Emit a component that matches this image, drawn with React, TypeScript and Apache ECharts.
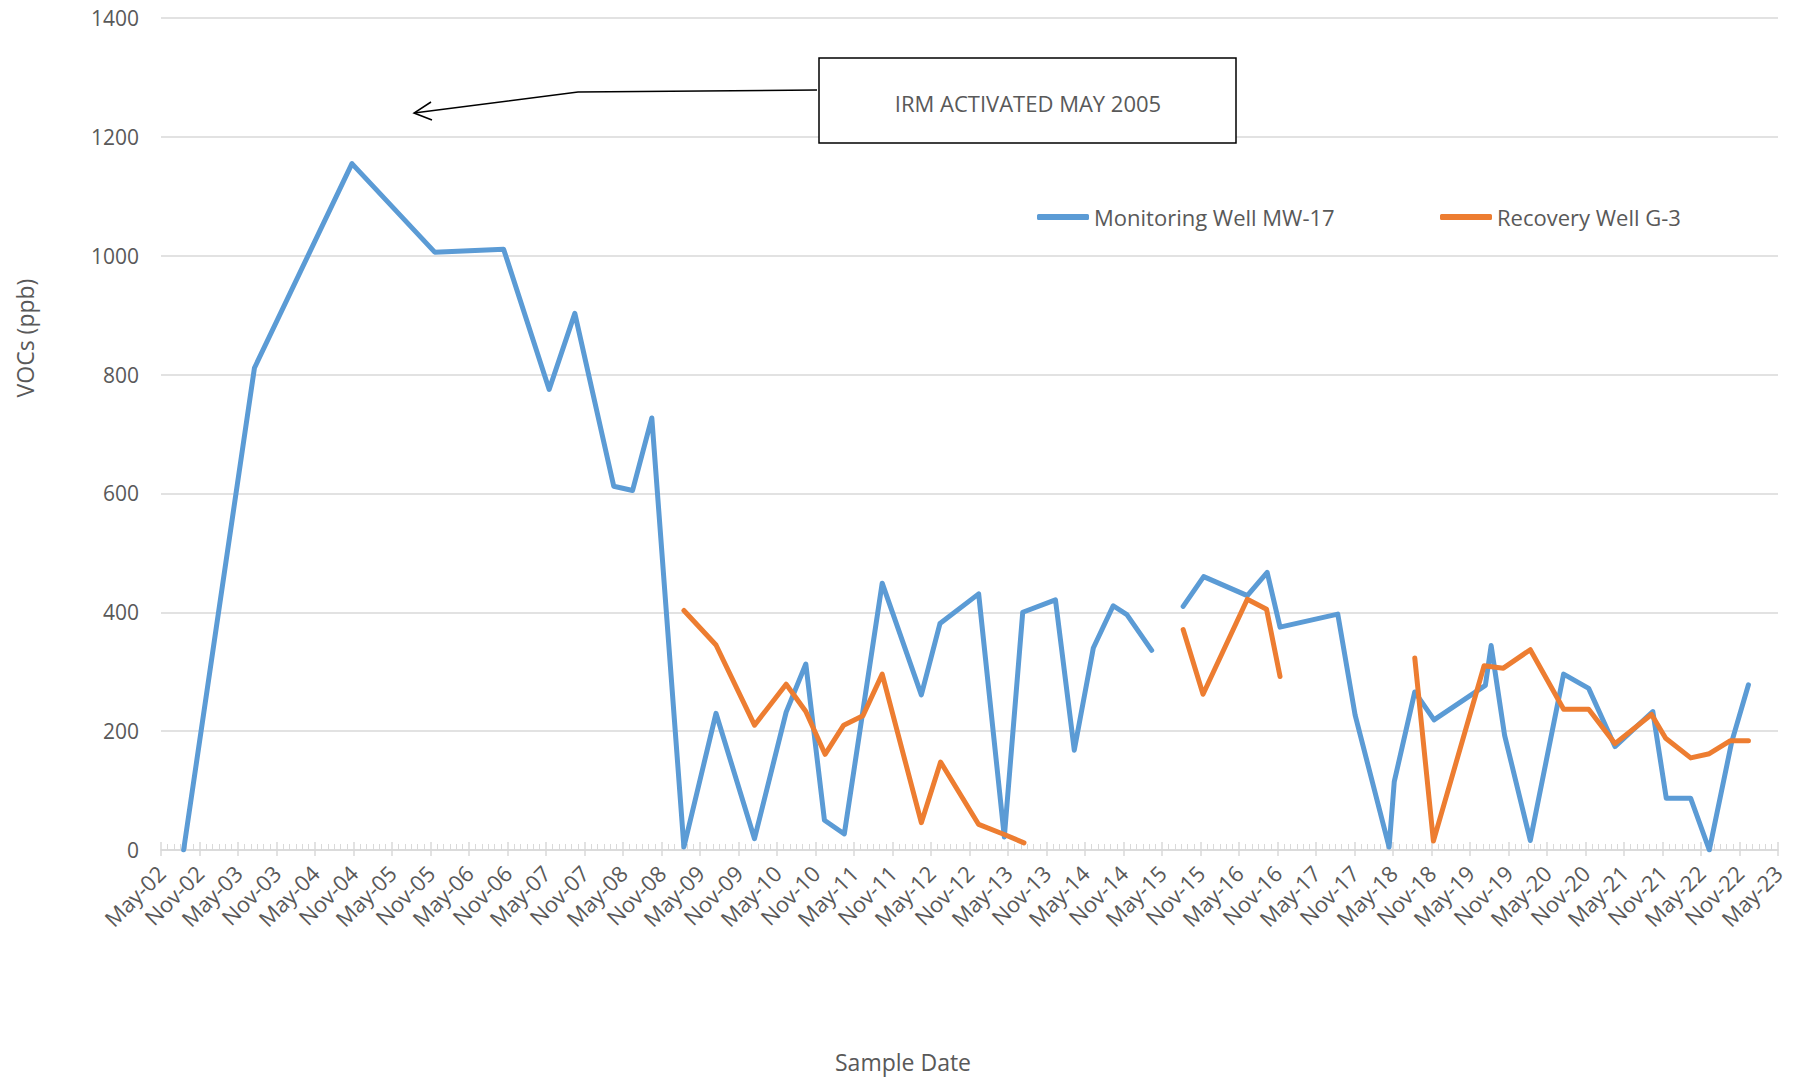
import React, { useEffect, useRef } from "react";
import * as echarts from "echarts";

// ---- Data ----
const seriesNames = ["Monitoring Well MW-17", "Recovery Well G-3"];

// Axis: months counted from May 2002 (May-02) to May 2023 (May-23)
const axisStartYear = 2002;
const axisStartMonth = 5;
const axisMinMonths = 0;
const axisMaxMonths = 252;
const axisMajorStepMonths = 6;
const monthNames = ["Jan", "Feb", "Mar", "Apr", "May", "Jun", "Jul", "Aug", "Sep", "Oct", "Nov", "Dec"];

const yMin = 0;
const yMax = 1400;
const yStep = 200;

// Monitoring Well MW-17 (null = no sample, line breaks)
const mwDates = [
  "2002-08-17", "2003-07-18", "2004-10-24", "2005-11-21", "2006-10-13", "2007-05-16",
  "2007-09-16", "2008-03-18", "2008-06-16", "2008-09-16", "2009-02-16", "2009-07-16",
  "2010-01-16", "2010-06-14", "2010-09-16", "2010-12-13", "2011-03-16", "2011-09-13",
  "2012-03-16", "2012-06-13", "2012-12-14", "2013-04-14", "2013-07-10", "2013-12-13",
  "2014-03-11", "2014-06-10", "2014-09-13", "2014-11-17", "2015-03-13", "2015-06-01",
  "2015-08-10", "2015-11-16", "2016-06-10", "2016-09-13", "2016-11-13", "2017-08-13",
  "2017-11-04", "2018-04-13", "2018-05-07", "2018-08-13", "2018-11-13", "2019-07-13",
  "2019-08-10", "2019-10-13", "2020-02-13", "2020-07-19", "2020-11-16", "2021-03-19",
  "2021-09-16", "2021-11-19", "2022-03-13", "2022-06-10", "2022-09-25", "2022-12-13",
];
const mwValues = [
  0, 811, 1155, 1006, 1011, 775,
  903, 612, 605, 727, 5, 230,
  19, 232, 313, 50, 27, 449,
  261, 381, 431, 22, 400, 421,
  168, 340, 411, 396, 336, null,
  410, 460, 428, 467, 375, 397,
  227, 5, 115, 266, 219, 277,
  344, 193, 16, 296, 272, 174,
  233, 87, 87, 0, 182, 278,
];

// Recovery Well G-3
const g3Dates = [
  "2009-02-16", "2009-07-16", "2010-01-16", "2010-06-14", "2010-09-16", "2010-12-16",
  "2011-03-13", "2011-06-13", "2011-09-13", "2012-03-16", "2012-06-16", "2012-12-14",
  "2013-04-14", "2013-07-16", "2014-06-01", "2015-08-10", "2015-11-13", "2016-06-10",
  "2016-09-10", "2016-11-13", "2017-09-01", "2018-08-13", "2018-11-10", "2019-07-07",
  "2019-10-07", "2020-02-13", "2020-07-19", "2020-11-16", "2021-03-19", "2021-09-10",
  "2021-11-16", "2022-03-13", "2022-06-10", "2022-09-19", "2022-12-13",
];
const g3Values = [
  403, 345, 210, 279, 233, 161,
  210, 226, 296, 46, 148, 43,
  26, 12, null, 371, 262, 422,
  405, 292, null, 323, 15, 310,
  306, 337, 237, 237, 179, 228,
  188, 155, 162, 184, 184,
];

const annotationText = "IRM ACTIVATED MAY 2005";
const yAxisTitle = "VOCs (ppb)";
const xAxisTitle = "Sample Date";

// ---- Helpers ----
function toAxisMonths(date: string): number {
  const [y, m, d] = date.split("-").map(Number);
  return (y - axisStartYear) * 12 + (m - axisStartMonth) + (d - 1) / 30.44;
}

function monthLabel(v: number): string {
  const total = axisStartMonth - 1 + Math.round(v);
  const year = axisStartYear + Math.floor(total / 12);
  const mi = ((total % 12) + 12) % 12;
  return `${monthNames[mi]}-${String(year % 100).padStart(2, "0")}`;
}

function buildData(dates: string[], values: (number | null)[]) {
  return dates.map((d, i) => [toAxisMonths(d), values[i] === null ? "-" : values[i]]);
}

const FONT = "Open Sans";
const TEXT_COLOR = "#595959";
const GRID_COLOR = "#d9d9d9";
const BLUE = "#5B9BD5";
const ORANGE = "#ED7D31";

export default function App() {
  const ref = useRef<HTMLDivElement>(null);

  useEffect(() => {
    document.body.style.margin = "0";
    if (!ref.current) return;
    const chart = echarts.init(ref.current, undefined, { renderer: "svg" });

    const legendCommon = {
      orient: "horizontal" as const,
      itemWidth: 52,
      itemHeight: 6,
      itemGap: 0,
      padding: 0,
      icon: "roundRect",
      textStyle: { color: TEXT_COLOR, fontSize: 22, fontFamily: FONT, padding: [0, 0, 0, 0] },
      top: 206,
    };

    chart.setOption({
      animation: false,
      backgroundColor: "#ffffff",
      textStyle: { fontFamily: FONT },
      grid: { left: 161, right: 19, top: 18, bottom: 227, containLabel: false },
      legend: [
        { ...legendCommon, left: 1037, data: [seriesNames[0]] },
        { ...legendCommon, left: 1440, data: [seriesNames[1]] },
      ],
      xAxis: [
        {
          type: "value",
          min: axisMinMonths,
          max: axisMaxMonths,
          interval: axisMajorStepMonths,
          position: "bottom",
          axisLine: { show: true, lineStyle: { color: GRID_COLOR, width: 1.5 } },
          axisTick: { show: true, inside: true, length: 8, lineStyle: { color: GRID_COLOR, width: 1.5 } },
          minorTick: { show: true, splitNumber: 6, length: 6, lineStyle: { color: GRID_COLOR, width: 1 } },
          splitLine: { show: false },
          axisLabel: {
            rotate: 45,
            margin: 19,
            color: TEXT_COLOR,
            fontSize: 22,
            fontFamily: FONT,
            formatter: (v: number) => monthLabel(v),
            showMinLabel: true,
            showMaxLabel: true,
          },
        },
        {
          type: "value",
          min: axisMinMonths,
          max: axisMaxMonths,
          interval: axisMajorStepMonths,
          position: "bottom",
          axisLine: { show: false },
          axisTick: { show: true, inside: false, length: 6, lineStyle: { color: GRID_COLOR, width: 1.5 } },
          splitLine: { show: false },
          axisLabel: { show: false },
        },
      ],
      yAxis: {
        type: "value",
        min: yMin,
        max: yMax,
        interval: yStep,
        axisLine: { show: false },
        axisTick: { show: false },
        splitLine: { show: true, lineStyle: { color: GRID_COLOR, width: 1.5 } },
        axisLabel: {
          color: TEXT_COLOR,
          fontSize: 21,
          fontFamily: FONT,
          margin: 22,
          formatter: (v: number) => String(v),
        },
      },
      series: [
        {
          name: seriesNames[0],
          type: "line",
          xAxisIndex: 0,
          data: buildData(mwDates, mwValues),
          showSymbol: false,
          symbol: "none",
          connectNulls: false,
          color: BLUE,
          lineStyle: { color: BLUE, width: 5, cap: "round", join: "round" },
        },
        {
          name: seriesNames[1],
          type: "line",
          xAxisIndex: 0,
          data: buildData(g3Dates, g3Values),
          showSymbol: false,
          symbol: "none",
          connectNulls: false,
          color: ORANGE,
          lineStyle: { color: ORANGE, width: 5, cap: "round", join: "round" },
        },
      ],
      graphic: [
        {
          type: "polyline",
          shape: { points: [[817, 90], [578, 92], [414, 113]] },
          style: { stroke: "#000", lineWidth: 1.5, fill: null },
          z: 100,
        },
        {
          type: "polyline",
          shape: { points: [[431, 102], [414, 113], [432, 120]] },
          style: { stroke: "#000", lineWidth: 1.5, fill: null },
          z: 100,
        },
        {
          type: "rect",
          shape: { x: 819, y: 58, width: 417, height: 85 },
          style: { fill: "#ffffff", stroke: "#000", lineWidth: 1.5 },
          z: 100,
        },
        {
          type: "text",
          x: 1028,
          y: 103,
          z: 101,
          style: {
            text: annotationText,
            fill: TEXT_COLOR,
            fontSize: 22,
            fontFamily: FONT,
            align: "center",
            verticalAlign: "middle",
          },
        },
        {
          type: "text",
          x: 25,
          y: 338,
          rotation: Math.PI / 2,
          z: 101,
          style: {
            text: yAxisTitle,
            fill: TEXT_COLOR,
            fontSize: 23,
            fontFamily: FONT,
            align: "center",
            verticalAlign: "middle",
          },
        },
        {
          type: "text",
          x: 903,
          y: 1062,
          z: 101,
          style: {
            text: xAxisTitle,
            fill: TEXT_COLOR,
            fontSize: 23,
            fontFamily: FONT,
            align: "center",
            verticalAlign: "middle",
          },
        },
      ],
    });

    return () => chart.dispose();
  }, []);

  return <div ref={ref} style={{ width: 1797, height: 1077 }} />;
}
